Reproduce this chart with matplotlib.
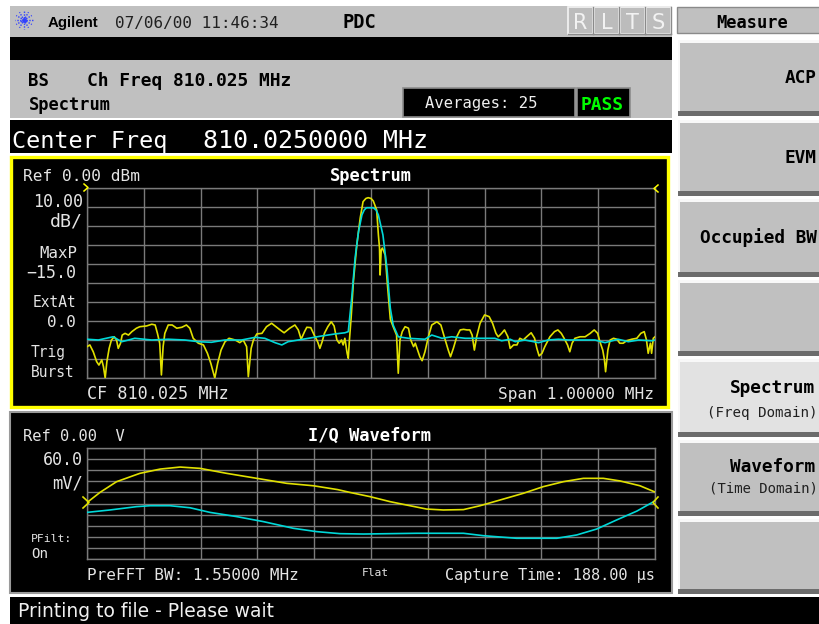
import matplotlib
matplotlib.use('Agg')
import matplotlib.pyplot as plt
from matplotlib.patches import Rectangle
import numpy as np

# ---------------- data ----------------
# Spectrum traces: frequency offset from CF (kHz) and level (dBm)
yel_f = [-500, -495, -489, -483, -479, -474, -471, -468, -465, -461,
         -457, -452, -448, -445, -441, -438, -433, -427, -421, -413,
         -407, -395, -386, -380, -376, -372, -369, -366, -363, -357,
         -350, -342, -333, -325, -319, -313, -304, -295, -288, -282,
         -275, -270, -264, -257, -250, -239, -231, -225, -219, -216,
         -211, -207, -201, -192, -184, -175, -169, -160, -153, -143,
         -134, -128, -123, -117, -113, -106, -100, -94, -90, -86,
         -82, -76, -70, -65, -60, -56, -52, -49, -46, -42,
         -40, -38, -35, -31, -25, -19, -14, -9, -5, 0,
         4, 10, 13, 15, 16, 18, 20, 25, 29, 34,
         39, 45, 48, 51, 55, 60, 66, 70, 75, 78,
         82, 86, 90, 95, 101, 107, 116, 123, 129, 136,
         140, 145, 151, 157, 163, 169, 174, 178, 182, 186,
         192, 200, 208, 214, 220, 224, 230, 235, 241, 245,
         251, 257, 262, 268, 274, 282, 288, 292, 296, 301,
         306, 315, 323, 329, 335, 340, 346, 350, 354, 359,
         368, 377, 386, 393, 399, 403, 408, 411, 413, 417,
         421, 427, 433, 438, 444, 450, 459, 468, 475, 481,
         485, 488, 492, 494, 497, 500]
yel_db = [-83.5, -82.6, -86.2, -91.4, -93.2, -90.5, -94.1, -100, -91.4, -84.4,
          -80, -78.3, -80, -84.4, -81.7, -77.4, -76.5, -77.4, -75.6, -73.8,
          -73, -72.6, -71.7, -72.1, -76.5, -81.7, -98.4, -83.5, -76.5, -72.1,
          -72.1, -73.8, -73.3, -72.1, -73.8, -79.1, -81.7, -82.6, -87, -92.3,
          -100, -92.3, -85.3, -80.9, -79.1, -80, -81.4, -80, -83.5, -99.3,
          -84.4, -80, -76.8, -76.5, -73, -71.2, -72.6, -74.7, -76.2, -73.8,
          -72.1, -74.7, -79.6, -75.6, -73.3, -73.5, -77.4, -80.9, -84.4, -80.9,
          -76.5, -73, -70.4, -72.6, -80, -81.7, -80, -82.6, -79.1, -87,
          -89.6, -80, -68.4, -49.3, -30, -15.8, -7.2, -5.5, -5.1, -5.5,
          -6.8, -11.6, -24.7, -31.6, -45.8, -32.6, -31.6, -35.3, -51.1, -69,
          -73, -77.4, -97.5, -80, -75.6, -73, -73.8, -80, -83.5, -81.7,
          -85.3, -88.8, -90.9, -86.2, -78.3, -72.1, -70.4, -72.1, -78.3, -85.3,
          -88.8, -84.4, -78.3, -74.7, -74.4, -74.7, -74.7, -77.4, -85.3, -78.3,
          -71.2, -66.8, -67.7, -71.2, -76.5, -78.3, -76.5, -74.7, -78.3, -84.4,
          -82.6, -82.6, -79.1, -80, -78.3, -76.2, -79.1, -84.4, -88.4, -87,
          -83.5, -78.3, -75.6, -74.7, -76.5, -79.1, -82.6, -86.2, -81.7, -79.1,
          -78.3, -78.3, -76.5, -74.7, -76.5, -80.9, -85.3, -90.5, -96.7, -85.3,
          -80, -79.1, -79.6, -81.7, -81.7, -80.4, -79.6, -79.1, -76.5, -75.6,
          -80, -87, -81.7, -87, -79.1, -78.3]

cyan_f = [-500, -480, -454, -439, -427, -416, -386, -357, -328, -304,
          -281, -257, -228, -204, -187, -169, -157, -146, -128, -110,
          -87, -63, -46, -40, -34, -28, -22, -16, -12, -8,
          4, 9, 13, 21, 28, 34, 39, 48, 66, 95,
          107, 125, 142, 166, 195, 218, 230, 245, 254, 271,
          295, 312, 330, 347, 371, 394, 412, 435, 453, 471,
          494, 500]
cyan_db = [-79.6, -80, -78.3, -80.9, -80, -79.1, -80, -79.6, -80, -80.9,
           -81.2, -80, -80, -78.6, -79.1, -81.4, -82.6, -80.9, -80, -79.1,
           -77.9, -76.8, -76.2, -75.6, -57.9, -36.8, -23, -14.2, -11.6, -10.4,
           -10.4, -11.6, -14.2, -24.7, -42.1, -63.2, -72.1, -78.3, -79.1, -79.6,
           -77.4, -79.1, -78.3, -79.1, -79.1, -79.1, -80.4, -79.6, -80.9, -80,
           -81.4, -80, -79.6, -80, -80, -80, -81.4, -79.6, -80.9, -80,
           -80.4, -80]

# I/Q waveform: time (us) and voltage (mV)
i_t = [0, 4.3, 9.8, 17.5, 24.2, 30.8, 37.4, 46.2, 56.2, 66.1, 74.9, 83, 87,
       93.7, 100.3, 106.9, 112.4, 117.9, 124.6, 130.1, 137.8, 144.4, 151,
       157.7, 164.3, 170.9, 176.4, 183, 188]
i_mv = [5, 60, 118, 163, 186, 197, 190, 163, 136, 109, 96, 75, 60,
        37, 10, -12, -30, -35, -33, -12, 24, 55, 91,
        118, 136, 136, 122, 96, 62]
q_t = [0, 7.6, 16.4, 20.9, 27.5, 34.1, 40.7, 49.6, 58.4, 68.3, 76, 83.7,
       91.5, 109.1, 124.6, 131.2, 142.2, 155.5, 162.1, 168.7, 175.3, 182, 188]
q_mv = [-48, -35, -17, -12, -12, -23, -48, -71, -98, -134, -152, -163,
        -165, -161, -161, -174, -188, -188, -170, -138, -89, -41, 14]

softkeys = ["ACP", "EVM", "Occupied BW", "", "Spectrum", "Waveform", ""]
softkey_sub = ["", "", "", "", "(Freq Domain)", "(Time Domain)", ""]

# ---------------- styling ----------------
W, H = 820, 624
MONO = 'DejaVu Sans Mono'
GRAY = '#c0c0c0'
YEL_BORDER = '#ffff00'
YEL = '#e0e000'
CYAN = '#00d8d8'
GRID = '#7a7a7a'
TXT = '#e4e4e4'

fig = plt.figure(figsize=(8.2, 6.24), dpi=100, facecolor='white')
bg = fig.add_axes([0, 0, 1, 1], zorder=0)
bg.set_xlim(0, W); bg.set_ylim(H, 0); bg.axis('off')


def rect(x0, y0, x1, y1, fc, ec='none', lw=0, z=1):
    bg.add_patch(Rectangle((x0, y0), x1 - x0, y1 - y0, facecolor=fc,
                           edgecolor=ec, linewidth=lw, zorder=z))


fits = []


def txt(s, x, y, w=None, size=11.5, ha='left', color=TXT, weight='normal',
        family=MONO, z=5):
    t = bg.text(x, y, s, ha=ha, va='baseline', fontsize=size, color=color,
                fontweight=weight, family=family, zorder=z)
    if w:
        fits.append((t, w))
    return t


# ---- top header rows ----
rect(10, 6, 672, 118, GRAY)
rect(10, 37, 672, 60, 'black')
rect(10, 120, 672, 153, 'black')

# Agilent logo (starburst)
cx, cy = 24, 20
for k in range(12):
    a = k * np.pi / 6
    bg.plot([cx + 2.5 * np.cos(a), cx + 9 * np.cos(a)],
            [cy + 2.5 * np.sin(a), cy + 9 * np.sin(a)],
            color='#3040ff', lw=1.0, ls=(0, (1, 1)), zorder=4)
bg.plot([cx], [cy], marker='o', ms=2.5, color='#3040ff', zorder=4)

txt("Agilent", 48, 27, w=51, size=11, color='black', weight='bold',
    family='Liberation Sans')
txt("07/06/00 11:46:34", 115, 28, w=164, color='#202020')
txt("PDC", 343, 28, w=34, color='black', weight='bold')

# R L T S indicator boxes
for i, ch in enumerate("RLTS"):
    x0 = 568 + i * 26
    rect(x0, 7, x0 + 25, 34, '#bcbcbc', ec='#f4f4f4', lw=1.2, z=2)
    bg.plot([x0 + 25, x0 + 25], [7, 34], color='#8a8a8a', lw=1, zorder=3)
    bg.plot([x0, x0 + 25], [34, 34], color='#8a8a8a', lw=1, zorder=3)
    txt(ch, x0 + 12.5, 29, size=15, ha='center', color='#f2f2f2',
        family='DejaVu Sans')

txt("BS", 28, 86, w=21, color='black', weight='bold')
txt("Ch Freq 810.025 MHz", 87, 86, w=205, color='black', weight='bold')
txt("Spectrum", 29, 110, w=82, color='black', weight='bold')

rect(403, 88, 575, 117, 'black', ec='#8c8c8c', lw=1.2)
txt("Averages: 25", 425, 108, w=112, color='#f0f0f0')
rect(577, 88, 630, 117, 'black', ec='#8c8c8c', lw=1.2)
txt("PASS", 581, 110, w=43, color='#00ff00', weight='bold')

txt("Center Freq", 12, 148, w=155, size=18, color='white')
txt("810.0250000 MHz", 203, 148, w=225, size=18, color='white')

# ---- spectrum panel ----
rect(11.5, 156.5, 668.5, 406.5, 'black', ec=YEL_BORDER, lw=2.4)
txt("Ref 0.00 dBm", 23, 181, w=117)
txt("Spectrum", 371, 181, w=82, ha='center', color='white', weight='bold')
txt("10.00", 83, 207, w=50, ha='right')
txt("dB/", 83, 226, w=33, ha='right')
txt("MaxP", 77, 258, w=38, ha='right')
txt("\u221215.0", 76, 278, w=50, ha='right')
txt("ExtAt", 76, 307, w=44, ha='right')
txt("0.0", 76, 327, w=29, ha='right')
txt("Trig", 31, 357, w=35)
txt("Burst", 31, 377, w=44)
txt("CF 810.025 MHz", 87, 399, w=141)
txt("Span 1.00000 MHz", 654, 399, w=156, ha='right')

# ---- I/Q panel ----
rect(10, 412, 672, 593, 'black', ec='#9a9a9a', lw=1.5)
txt("Ref 0.00  V", 23, 441, w=102)
txt("I/Q Waveform", 370, 441, w=124, ha='center', color='white',
    weight='bold')
txt("60.0", 83, 465, w=40, ha='right')
txt("mV/", 83, 488, w=31, ha='right')
txt("PFilt:", 31, 542, w=41)
txt("On", 31, 558, w=17)
txt("PreFFT BW: 1.55000 MHz", 87, 580, w=213)
txt("Flat", 375, 576, w=27, ha='center')
txt("Capture Time: 188.00 \u00b5s", 655, 580, w=211, ha='right')

# ---- status bar ----
rect(10, 597, 820, 624, 'black')
txt("Printing to file - Please wait", 18, 617, w=258, family='DejaVu Sans',
    color='#f0f0f0')

# ---- softkeys ----
rect(677, 7, 820, 33, GRAY, ec='#8a8a8a', lw=1.0)
txt("Measure", 752, 28, w=72, ha='center', color='black', weight='bold')

btn_y = [(40, 116), (120, 196), (199, 277), (280, 356), (359, 437),
         (440, 516), (519, 594)]
lbl_y = [83, 163, 243, None, 393, 472, None]
lbl_x = [785, 785, 700, None, 730, 730, None]
sub_y = [None, None, None, None, 417, 493, None]
sub_w = [None, None, None, None, 110, 109, None]
for i, (y0, y1) in enumerate(btn_y):
    fc = '#e2e2e2' if i == 4 else GRAY
    rect(678, y0, 820, y1, '#f8f8f8')
    rect(680, y0 + 3, 820, y1 - 5, fc)
    rect(678, y1 - 5, 820, y1, '#6c6c6c')
    if softkeys[i]:
        txt(softkeys[i], lbl_x[i], lbl_y[i], size=12.8, color='black',
            weight='bold')
    if softkey_sub[i]:
        txt(softkey_sub[i], 818, sub_y[i], w=sub_w[i], size=10.8,
            ha='right', color='#202020')

# ---- spectrum axes ----
axs = fig.add_axes([87 / W, 1 - 378 / H, 568 / W, 190 / H], zorder=1)
axs.set_facecolor('black')
axs.set_xlim(-500, 500)
axs.set_ylim(-100, 0)
axs.set_xticks(np.linspace(-500, 500, 11))
axs.set_yticks(np.linspace(-100, 0, 11))
axs.tick_params(length=0, labelbottom=False, labelleft=False)
axs.grid(True, color=GRID, lw=1.0)
for s in axs.spines.values():
    s.set_color(GRID); s.set_linewidth(1.0)
axs.plot(yel_f, yel_db, color=YEL, lw=1.2, zorder=3)
axs.plot(cyan_f, cyan_db, color=CYAN, lw=1.2, zorder=4)

# ---- I/Q axes ----
axq = fig.add_axes([87 / W, 1 - 559 / H, 568 / W, 111 / H], zorder=1)
axq.set_facecolor('black')
axq.set_xlim(0, 188)
axq.set_ylim(-300, 300)
axq.set_xticks(np.linspace(0, 188, 11))
axq.set_yticks(np.linspace(-300, 300, 11))
axq.tick_params(length=0, labelbottom=False, labelleft=False)
axq.grid(True, color=GRID, lw=1.0)
for s in axq.spines.values():
    s.set_color(GRID); s.set_linewidth(1.0)
axq.plot(i_t, i_mv, color=YEL, lw=1.2, zorder=3)
axq.plot(q_t, q_mv, color=CYAN, lw=1.2, zorder=4)

# ---- overlay markers (reference-level chevrons) ----
fg = fig.add_axes([0, 0, 1, 1], zorder=2)
fg.set_xlim(0, W); fg.set_ylim(H, 0); fg.axis('off')
fg.patch.set_alpha(0)
fg.plot([84, 88, 84], [184, 187.5, 191], color=YEL_BORDER, lw=1.1)
fg.plot([658, 654, 658], [185, 188.5, 192], color=YEL_BORDER, lw=1.1)
fg.plot([83, 89, 83], [497, 502.5, 508], color=YEL, lw=1.2)
fg.plot([658, 653, 658], [497, 502.5, 508], color=YEL, lw=1.2)

# fit text widths
renderer = fig.canvas.get_renderer()
for t, w in fits:
    bb = t.get_window_extent(renderer)
    if bb.width > 0:
        t.set_fontsize(t.get_fontsize() * w / bb.width)

fig.savefig('out.png', dpi=100, facecolor='white')
